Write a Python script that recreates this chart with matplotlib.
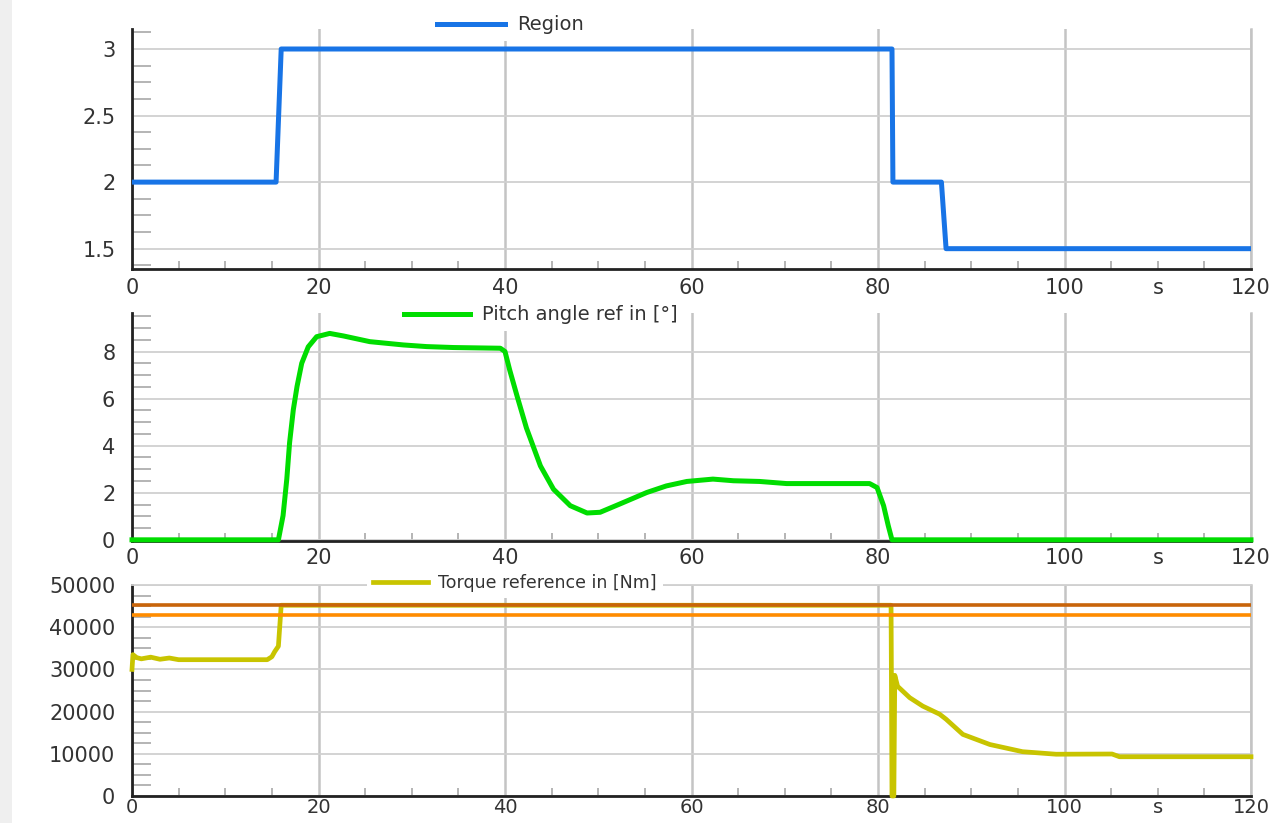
import matplotlib
matplotlib.use('Agg')
import matplotlib.pyplot as plt
from matplotlib.ticker import MultipleLocator, FuncFormatter
from matplotlib.patches import Rectangle

# Control region over the run
region_t = [0, 15.45, 16.0, 81.5, 81.6, 86.8, 87.3, 120]
region_v = [2, 2, 3, 3, 2, 2, 1.5, 1.5]

# Pitch angle reference [deg]
pitch_t = [0, 15.7, 16.2, 16.6, 16.9, 17.3, 17.7, 18.2, 18.9, 19.8, 21.2, 22.7,
           25.5, 29.1, 31.6, 34.5, 39.5, 40.0, 40.5, 41.3, 42.3, 43.8, 45.2, 47.0,
           48.8, 50.2, 52.3, 55.2, 57.3, 59.5, 62.3, 64.5, 67.3, 70.2, 79.1, 79.9,
           80.6, 81.1, 81.5, 120]
pitch_v = [0, 0, 1.03, 2.58, 4.13, 5.53, 6.52, 7.5, 8.2, 8.63, 8.77, 8.66,
           8.42, 8.28, 8.21, 8.17, 8.14, 8.0, 7.22, 6.1, 4.75, 3.14, 2.15, 1.45,
           1.14, 1.17, 1.52, 2.01, 2.29, 2.48, 2.58, 2.51, 2.48, 2.39, 2.39, 2.22,
           1.45, 0.6, 0, 0]

# Torque reference [Nm] and the two limit levels
torque_t = [0, 0.1, 0.5, 1.0, 2.0, 3.0, 4.0, 5.0, 14.5, 15.0, 15.3, 15.7, 16.0,
            81.4, 81.5, 81.7, 81.8, 82.1, 83.4, 84.8, 86.6, 87.3, 89.1, 92.0,
            95.5, 99.1, 105.1, 105.9, 120]
torque_v = [30000, 33500, 32800, 32500, 32900, 32400, 32700, 32300, 32300, 33000,
            34200, 35500, 45200, 45200, 0, 0, 28600, 26000, 23300, 21300, 19400,
            18200, 14600, 12200, 10500, 9900, 9950, 9300, 9300]
torque_max = 45200
torque_rated = 42900

x_ticks = [0, 20, 40, 60, 80, 100, 120]
time_unit = 's'

W, H = 1284, 823
fig = plt.figure(figsize=(W / 100, H / 100), dpi=100)
fig.patches.append(Rectangle((0, 0), 12 / W, 1, transform=fig.transFigure,
                             facecolor='#efefef', edgecolor='none'))

ax1 = fig.add_axes([132 / W, 1 - 269.3 / H, 1119 / W, 240 / H])
ax2 = fig.add_axes([132 / W, 1 - 541 / H, 1119 / W, 228.3 / H])
ax3 = fig.add_axes([132 / W, 1 - 796 / H, 1119 / W, 211 / H])

fmt = FuncFormatter(lambda v, p: f'{v:g}')
# minor x ticks carry no labels except the unit at 110 s
unit_fmt = FuncFormatter(lambda v, p: time_unit if abs(v - 110) < 1e-6 else '')


def style_axis(ax, ymin, ymax, ymajor, yminor, xpad):
    ax.set_xlim(0, 120)
    ax.set_ylim(ymin, ymax)
    ax.set_xticks(x_ticks)
    ax.xaxis.set_minor_locator(MultipleLocator(5))
    ax.xaxis.set_minor_formatter(unit_fmt)
    ax.yaxis.set_major_locator(MultipleLocator(ymajor))
    ax.yaxis.set_minor_locator(MultipleLocator(yminor))
    ax.yaxis.set_major_formatter(fmt)
    ax.set_axisbelow(True)
    ax.grid(axis='x', color='#c4c4c4', lw=1.8)
    ax.grid(axis='y', color='#d0d0d0', lw=1.3)
    for side in ('left', 'bottom'):
        ax.spines[side].set_color('#222222')
        ax.spines[side].set_linewidth(2)
    ax.spines['top'].set_visible(False)
    ax.spines['right'].set_color('#c4c4c4')
    ax.spines['right'].set_linewidth(1.8)
    ax.tick_params(axis='y', which='major', length=0, pad=12, labelsize=15,
                   labelcolor='#333333')
    ax.tick_params(axis='x', which='both', pad=xpad, labelsize=15,
                   labelcolor='#333333')
    ax.tick_params(axis='x', which='major', length=0)
    ax.tick_params(axis='y', which='minor', direction='in', length=14,
                   width=1.2, color='#a8a8a8')
    ax.tick_params(axis='x', which='minor', direction='in', length=6,
                   width=1.2, color='#a8a8a8')


def add_legend(ax, line, label, x, y, size, hlen, hpad):
    ax.legend([line], [label], loc='center left', bbox_to_anchor=(x / W, 1 - y / H),
              bbox_transform=fig.transFigure, frameon=True, facecolor='white',
              edgecolor='none', fancybox=False, framealpha=1, fontsize=size,
              handlelength=hlen, handletextpad=hpad, borderpad=0.35,
              borderaxespad=0, labelcolor='#333333')


# Region
style_axis(ax1, 1.345, 3.148, 0.5, 0.125, 6)
l1, = ax1.plot(region_t, region_v, color='#1874e6', lw=3.6, zorder=3)
add_legend(ax1, l1, 'Region', 430, 25, 14, 3.5, 0.62)

# Pitch angle
style_axis(ax2, -0.05, 9.65, 2, 0.5, 5)
l2, = ax2.plot(pitch_t, pitch_v, color='#00dd00', lw=3.6, zorder=3, clip_on=False)
add_legend(ax2, l2, 'Pitch angle ref in [°]', 397, 315, 14, 3.4, 0.6)

# Torque
style_axis(ax3, 0, 50000, 10000, 2500, 1.2)
ax3.tick_params(axis='x', which='both', labelsize=14)
ax3.spines['top'].set_visible(True)
ax3.spines['top'].set_color('#d0d0d0')
ax3.spines['top'].set_linewidth(1.3)
l3, = ax3.plot(torque_t, torque_v, color='#c8c400', lw=3.4, zorder=3, clip_on=False)
ax3.axhline(torque_max, color='#c8640a', lw=2.6, zorder=4)
ax3.axhline(torque_rated, color='#ff8c00', lw=2.6, zorder=4)
add_legend(ax3, l3, 'Torque reference in [Nm]', 367, 583, 12.5, 3.16, 0.57)

fig.savefig('out.png', dpi=100)
